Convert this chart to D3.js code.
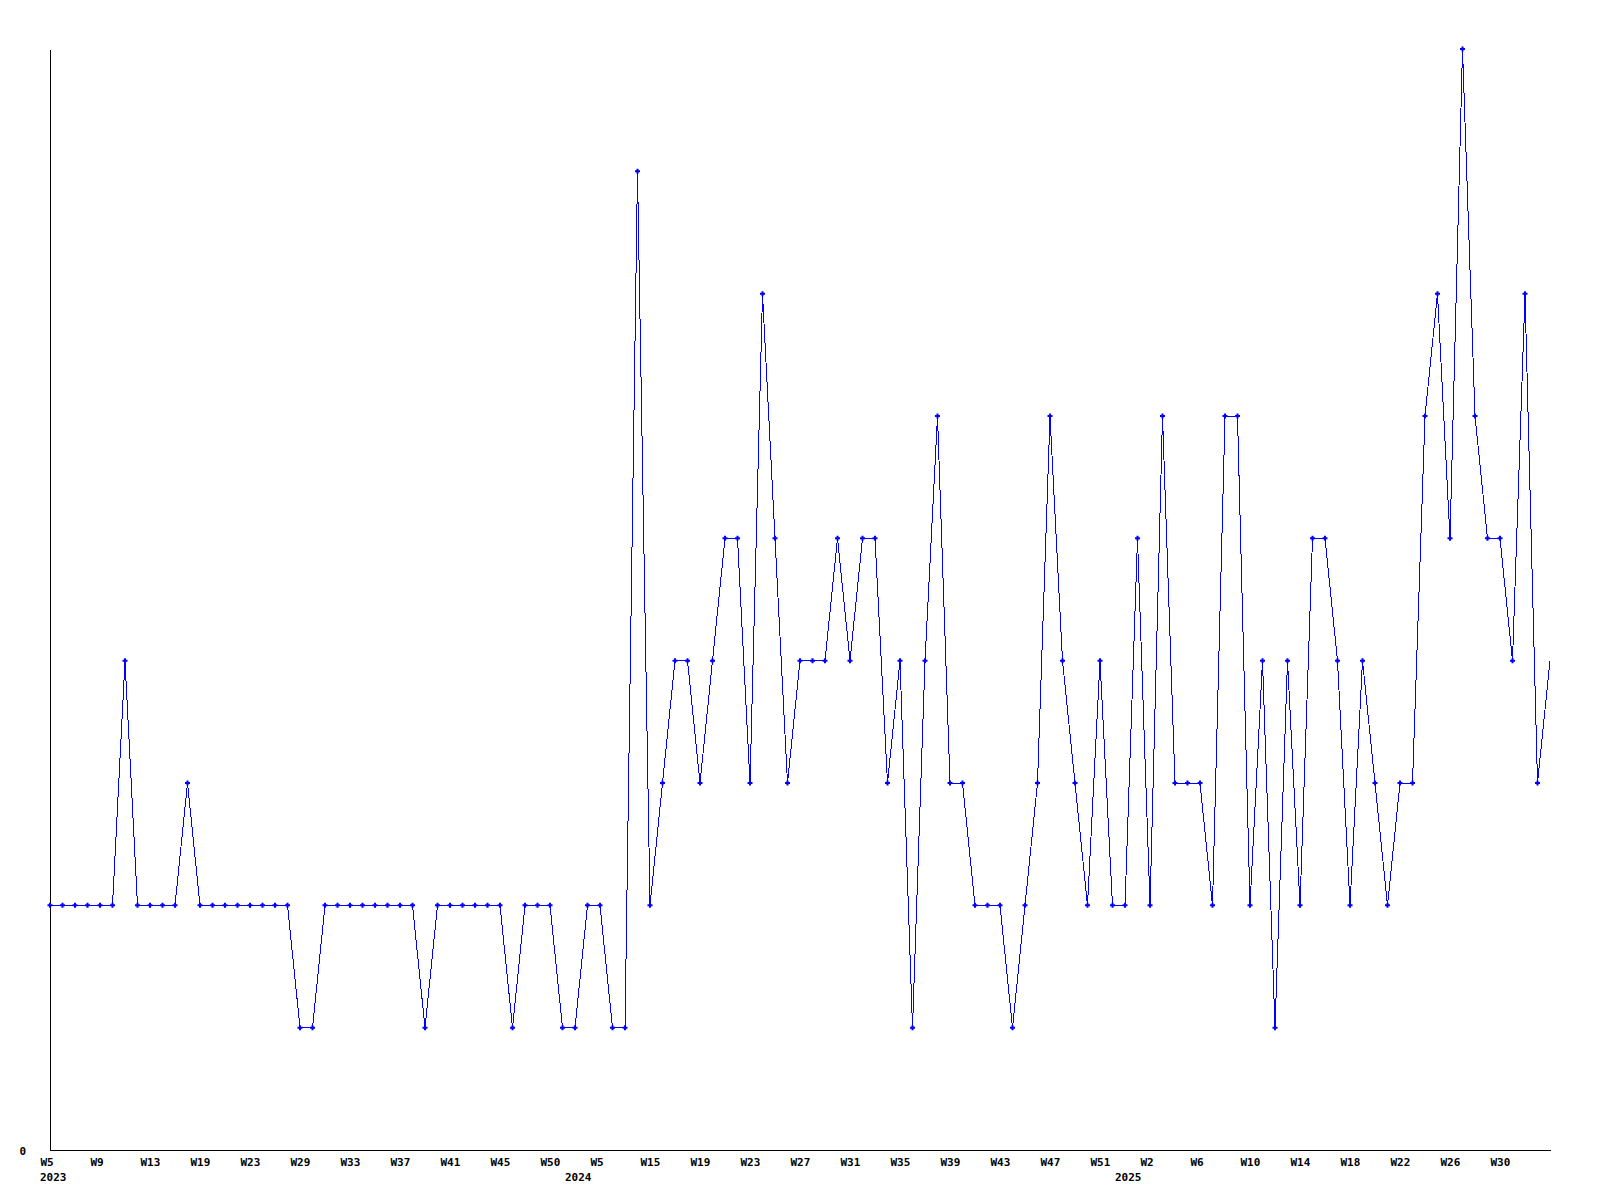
<!DOCTYPE html>
<html>
<head>
<meta charset="utf-8">
<script src="https://cdn.jsdelivr.net/npm/d3@7"></script>
<style>
  html, body { margin: 0; padding: 0; background: #fff; }
  svg { display: block; }
  text { font-family: "DejaVu Sans Mono", monospace; font-weight: bold; font-size: 11px; fill: #000; }
</style>
</head>
<body>
<script>
// Weekly counts, one per data point (categorical x positions)
const values = [
  2,2,2,2,2,2,4,2,2,2,
  2,3,2,2,2,2,2,2,2,2,
  1,1,2,2,2,2,2,2,2,2,
  1,2,2,2,2,2,2,1,2,2,
  2,1,1,2,2,1,1,8,2,3,
  4,4,3,4,5,5,3,7,5,3,
  4,4,4,5,4,5,5,3,4,1,
  4,6,3,3,2,2,2,1,2,3,
  6,4,3,2,4,2,2,5,2,6,
  3,3,3,2,6,6,2,4,1,4,
  2,5,5,4,2,4,3,2,3,3,
  6,7,5,9,6,5,5,4,7,3,
  4
];
// Tick labels shown every 4th point
const weekLabels = ["W5","W9","W13","W19","W23","W29","W33","W37","W41","W45","W50",
  "W5","W15","W19","W23","W27","W31","W35","W39","W43","W47","W51",
  "W2","W6","W10","W14","W18","W22","W26","W30"];
const tickStep = 4;
// Year labels placed at the first point of each year
const yearLabels = ["2023","2024","2025"];
const yearStarts = [0, 42, 86];
const yTicks = [0];

const W = 1600, H = 1200;
const svg = d3.select("body").append("svg").attr("width", W).attr("height", H);

const x = d3.scaleLinear().domain([0, values.length - 1]).range([50, 1550]);
const y = d3.scaleLinear().domain([0, 9]).range([1150, 49]);

// X axis
const xAxis = d3.axisBottom(x)
  .tickValues(d3.range(0, weekLabels.length * tickStep, tickStep))
  .tickFormat(i => weekLabels[i / tickStep])
  .tickSize(0).tickSizeOuter(0).tickPadding(8);
const gx = svg.append("g").attr("transform", "translate(0,1150)").call(xAxis);
gx.select(".domain").attr("stroke", "#000").attr("shape-rendering", "crispEdges");
gx.selectAll("text").attr("text-anchor", "start").attr("x", -10)
  .style("font-family", "'DejaVu Sans Mono', monospace").style("font-weight", "bold").style("font-size", "11px").attr("fill", "#000");

// Year labels
svg.append("g").selectAll("text").data(yearLabels).join("text")
  .attr("x", (d, i) => x(yearStarts[i]) - 10)
  .attr("y", 1181)
  .text(d => d);

// Y axis
const yAxis = d3.axisLeft(y).tickValues(yTicks).tickFormat(d3.format("d"))
  .tickSize(0).tickSizeOuter(0).tickPadding(24);
const gy = svg.append("g").attr("transform", "translate(50,0)").call(yAxis);
gy.select(".domain").attr("stroke", "#000").attr("shape-rendering", "crispEdges");
gy.selectAll("text").attr("dy", "0.45em")
  .style("font-family", "'DejaVu Sans Mono', monospace").style("font-weight", "bold").style("font-size", "11px").attr("fill", "#000");

// Line
const line = d3.line().x((d, i) => x(i)).y(d => y(d));
svg.append("path").datum(values)
  .attr("d", line)
  .attr("fill", "none")
  .attr("stroke", "#0000ff")
  .attr("stroke-width", 1)
  .attr("shape-rendering", "crispEdges");

// Markers (the final point is drawn without a marker)
const plus = "M-2.5,-1h5v2h-5z M-1,-2.5h2v5h-2z";
svg.append("g").selectAll("path").data(values.slice(0, -1)).join("path")
  .attr("transform", (d, i) => `translate(${x(i)},${y(d)})`)
  .attr("d", plus)
  .attr("fill", "#0000ff");
</script>
</body>
</html>
